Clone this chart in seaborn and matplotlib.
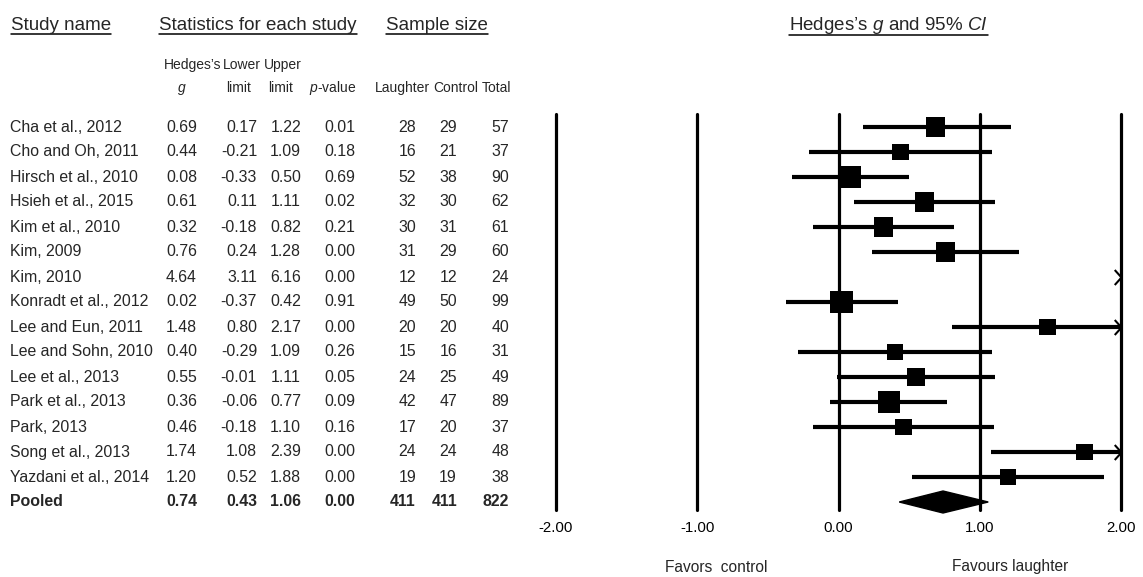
import numpy as np
import pandas as pd
import matplotlib
matplotlib.use("Agg")
import matplotlib.pyplot as plt
from matplotlib.path import Path
import seaborn as sns

# ---------------- data ----------------
studies = ["Cha et al., 2012", "Cho and Oh, 2011", "Hirsch et al., 2010", "Hsieh et al., 2015",
           "Kim et al., 2010", "Kim, 2009", "Kim, 2010", "Konradt et al., 2012",
           "Lee and Eun, 2011", "Lee and Sohn, 2010", "Lee et al., 2013", "Park et al., 2013",
           "Park, 2013", "Song et al., 2013", "Yazdani et al., 2014"]
hedges_g = [0.69, 0.44, 0.08, 0.61, 0.32, 0.76, 4.64, 0.02, 1.48, 0.40, 0.55, 0.36, 0.46, 1.74, 1.20]
lower_limit = [0.17, -0.21, -0.33, 0.11, -0.18, 0.24, 3.11, -0.37, 0.80, -0.29, -0.01, -0.06, -0.18, 1.08, 0.52]
upper_limit = [1.22, 1.09, 0.50, 1.11, 0.82, 1.28, 6.16, 0.42, 2.17, 1.09, 1.11, 0.77, 1.10, 2.39, 1.88]
p_values = [0.01, 0.18, 0.69, 0.02, 0.21, 0.00, 0.00, 0.91, 0.00, 0.26, 0.05, 0.09, 0.16, 0.00, 0.00]
n_laughter = [28, 16, 52, 32, 30, 31, 12, 49, 20, 15, 24, 42, 17, 24, 19]
n_control = [29, 21, 38, 30, 31, 29, 12, 50, 20, 16, 25, 47, 20, 24, 19]
n_total = [57, 37, 90, 62, 61, 60, 24, 99, 40, 31, 49, 89, 37, 48, 38]

pooled_label = "Pooled"
pooled_g = 0.74
pooled_lower = 0.43
pooled_upper = 1.06
pooled_p = 0.00
pooled_laughter = 411
pooled_control = 411
pooled_total = 822

x_ticks = [-2, -1, 0, 1, 2]
x_tick_labels = ["-2.00", "-1.00", "0.00", "1.00", "2.00"]

# ---------------- style ----------------
sns.set_theme(style="white")
plt.rcParams["font.family"] = ["Liberation Sans", "DejaVu Sans"]
plt.rcParams["mathtext.fontset"] = "custom"
plt.rcParams["mathtext.rm"] = "Liberation Sans"
plt.rcParams["mathtext.it"] = "Liberation Sans:italic"
plt.rcParams["mathtext.bf"] = "Liberation Sans:bold"

W, H = 1143, 577
ROW0, DY = 127, 25
AX_L, AX_R, AX_T, AX_B = 556, 1121, 114, 510
XMIN, XMAX = x_ticks[0], x_ticks[-1]

fig = plt.figure(figsize=(W / 100, H / 100), dpi=100)
fig.patch.set_facecolor("white")

# text layer in pixel coordinates
axt = fig.add_axes([0, 0, 1, 1])
axt.set_xlim(0, W)
axt.set_ylim(H, 0)
axt.axis("off")

# forest axes
ax = fig.add_axes([AX_L / W, 1 - AX_B / H, (AX_R - AX_L) / W, (AX_B - AX_T) / H])
ax.set_facecolor("none")
ax.set_xlim(XMIN, XMAX)
ax.set_ylim((AX_B - ROW0) / DY, (AX_T - ROW0) / DY)
for s in ax.spines.values():
    s.set_visible(False)
ax.set_yticks([])
ax.set_xticks(x_ticks)
ax.set_xticklabels(x_tick_labels)
ax.tick_params(axis="x", length=0, pad=8, labelsize=10.8, colors="black")

for t in x_ticks:
    ax.axvline(t, color="black", lw=2.3, zorder=1, clip_on=False)

n = len(studies)
rows = np.arange(n)
lo = np.array(lower_limit)
hi = np.array(upper_limit)
side_px = 19.57 * (1.0 / (hi - lo)) ** 0.6
msize = (side_px * 0.72) ** 2
df = pd.DataFrame({"g": hedges_g, "row": rows, "msize": msize})

# CI lines
for r, l, u in zip(rows, lo, hi):
    x0, x1 = max(l, XMIN), min(u, XMAX)
    if x1 > x0:
        ax.hlines(r, x0, x1, color="black", lw=3.0, zorder=3)

# arrow heads for CIs running past the right end
chevron = Path([(-0.9, 1.0), (0.0, 0.0), (-0.9, -1.0)], [Path.MOVETO, Path.LINETO, Path.LINETO])
for r, u in zip(rows, hi):
    if u > XMAX:
        ax.plot([XMAX], [r], marker=chevron, markersize=10.8, mfc="none", mec="black",
                mew=1.5, linestyle="none", clip_on=False, zorder=5)

# squares
smin, smax = float(msize.min()), float(msize.max())
sns.scatterplot(data=df, x="g", y="row", size="msize", sizes=(smin, smax), size_norm=(smin, smax),
                marker="s", color="black", linewidth=0, legend=False, ax=ax, zorder=4)
ax.set_xlabel("")
ax.set_ylabel("")

# pooled diamond
pr = n
h = 11 / DY
ax.fill([pooled_lower, pooled_g, pooled_upper, pooled_g], [pr, pr - h, pr, pr + h],
        color="black", zorder=4, clip_on=False)

# ---------------- table text ----------------
HFS = 13.5
head_specs = [(11, "Study name"), (159, "Statistics for each study"), (386, "Sample size")]
head_texts = []
for x, txt in head_specs:
    head_texts.append(axt.text(x, 25, txt, fontsize=HFS, ha="left", va="center"))
head_texts.append(axt.text(888.5, 25, r"Hedges’s $\mathit{g}$ and 95% $\mathit{CI}$",
                           fontsize=HFS, ha="center", va="center"))

SFS = 10.0
axt.text(192.5, 65, "Hedges’s", fontsize=SFS, ha="center", va="center")
axt.text(242, 65, "Lower", fontsize=SFS, ha="center", va="center")
axt.text(283, 65, "Upper", fontsize=SFS, ha="center", va="center")
axt.text(182, 88, "g", fontsize=SFS, ha="center", va="center", fontstyle="italic")
axt.text(239, 88, "limit", fontsize=SFS, ha="center", va="center")
axt.text(281, 88, "limit", fontsize=SFS, ha="center", va="center")
axt.text(333, 88, r"$\mathit{p}$-value", fontsize=SFS, ha="center", va="center")
axt.text(402, 88, "Laughter", fontsize=SFS, ha="center", va="center")
axt.text(456, 88, "Control", fontsize=SFS, ha="center", va="center")
axt.text(497, 88, "Total", fontsize=SFS, ha="center", va="center")

DFS = 11.4
col_right = [197, 257, 301, 355, 416, 457, 509]


def put_row(y, name, vals, weight="normal"):
    axt.text(10, y, name, fontsize=DFS, ha="left", va="center", fontweight=weight)
    for x, v in zip(col_right, vals):
        axt.text(x, y, v, fontsize=DFS, ha="right", va="center", fontweight=weight)


for i in range(n):
    put_row(ROW0 + i * DY, studies[i],
            [f"{hedges_g[i]:.2f}", f"{lower_limit[i]:.2f}", f"{upper_limit[i]:.2f}",
             f"{p_values[i]:.2f}", str(n_laughter[i]), str(n_control[i]), str(n_total[i])])
put_row(ROW0 + n * DY, pooled_label,
        [f"{pooled_g:.2f}", f"{pooled_lower:.2f}", f"{pooled_upper:.2f}", f"{pooled_p:.2f}",
         str(pooled_laughter), str(pooled_control), str(pooled_total)], weight="bold")

axt.text(665, 567, "Favors  control", fontsize=11.2, ha="left", va="center")
axt.text(952, 567, "Favours laughter", fontsize=11.2, ha="left", va="center")

# underline the headers
fig.canvas.draw()
renderer = fig.canvas.get_renderer()
for t, yline in zip(head_texts, [34, 34, 34, 35]):
    bb = t.get_window_extent(renderer=renderer)
    axt.plot([bb.x0, bb.x1], [yline, yline], color="black", lw=1.1)

fig.savefig("out.png", dpi=100, facecolor="white")
